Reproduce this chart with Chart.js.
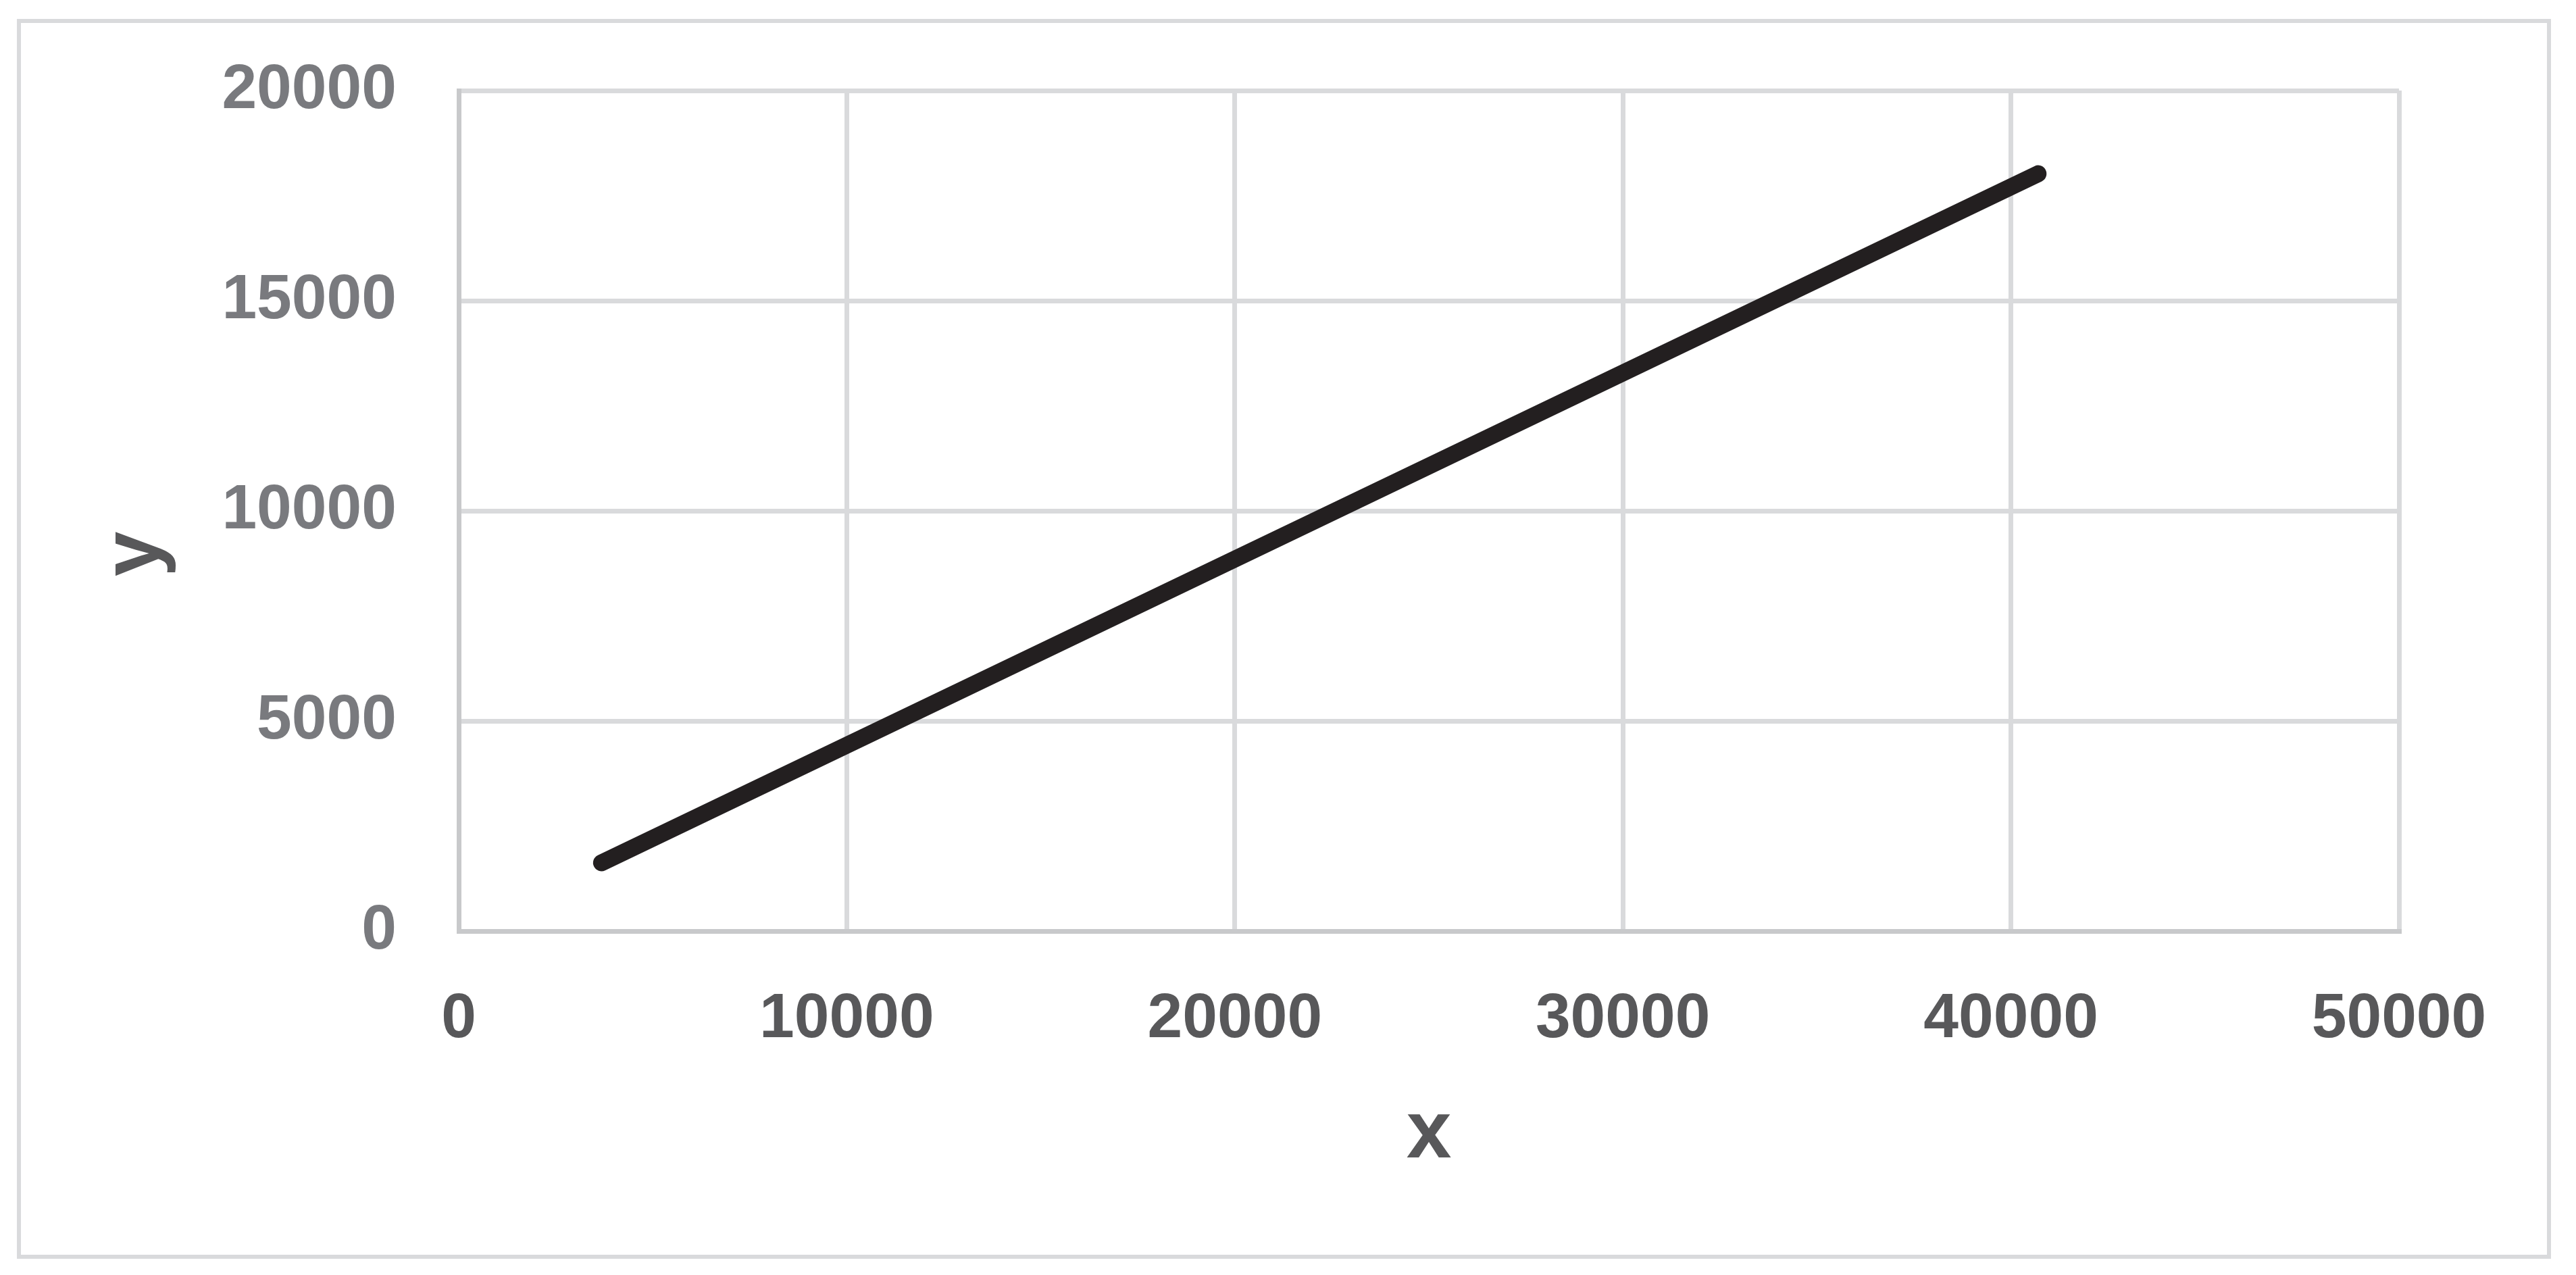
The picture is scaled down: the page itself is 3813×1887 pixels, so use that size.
<!DOCTYPE html>
<html>
<head>
<meta charset="utf-8">
<script src="https://cdn.jsdelivr.net/npm/chart.js@4/dist/chart.umd.min.js"></script>
<style>
  html, body { margin: 0; padding: 0; background: #ffffff; }
  #c { display: block; }
</style>
</head>
<body>
<canvas id="c" width="3813" height="1887"></canvas>
<script>
// ---- data ----
const xValues = [3680, 40700];
const yValues = [1625, 18020];
const xTickLabels = ['0', '10000', '20000', '30000', '40000', '50000'];
const yTickLabels = ['0', '5000', '10000', '15000', '20000'];
const xTitle = 'x';
const yTitle = 'y';

const points = xValues.map((x, i) => ({ x: x, y: yValues[i] }));

const frameAndTitles = {
  id: 'frameAndTitles',
  beforeDraw(chart) {
    const ctx = chart.ctx;
    ctx.save();
    ctx.fillStyle = '#ffffff';
    ctx.fillRect(0, 0, chart.width, chart.height);
    ctx.strokeStyle = '#d9dadc';
    ctx.lineWidth = 6;
    ctx.strokeRect(28, 31, 3773 - 28, 1860 - 31);
    ctx.restore();
  },
  afterDraw(chart) {
    const ctx = chart.ctx;
    const area = chart.chartArea;
    ctx.save();
    ctx.fillStyle = '#58585a';
    ctx.font = 'bold 120px "Liberation Sans", Arial, sans-serif';
    ctx.textAlign = 'center';
    ctx.textBaseline = 'alphabetic';
    ctx.fillText(xTitle, (area.left + area.right) / 2, 1713);
    ctx.translate(235, 820);
    ctx.rotate(-Math.PI / 2);
    ctx.fillText(yTitle, 0, 0);
    ctx.restore();
  }
};

new Chart(document.getElementById('c'), {
  type: 'scatter',
  data: {
    datasets: [{
      data: points,
      showLine: true,
      borderColor: '#231f20',
      backgroundColor: '#231f20',
      borderWidth: 25,
      borderCapStyle: 'round',
      borderJoinStyle: 'round',
      pointRadius: 0,
      pointHoverRadius: 0,
      tension: 0
    }]
  },
  plugins: [frameAndTitles],
  options: {
    responsive: false,
    animation: false,
    devicePixelRatio: 1,
    layout: { padding: { left: 0, top: 134, right: 262, bottom: 0 } },
    plugins: { legend: { display: false }, tooltip: { enabled: false } },
    scales: {
      x: {
        type: 'linear',
        min: 0, max: 50000,
        afterFit(scale) { scale.height = 509; scale.paddingLeft = 0; scale.paddingRight = 0; },
        grid: { color: '#d9dadc', lineWidth: 7, drawTicks: false },
        border: { color: '#c8c9cb', width: 7 },
        ticks: {
          stepSize: 10000,
          padding: 76,
          color: '#58585a',
          font: { family: '"Liberation Sans", Arial, sans-serif', size: 93, weight: 'bold' },
          maxRotation: 0,
          callback: (v, i) => xTickLabels[i]
        }
      },
      y: {
        type: 'linear',
        min: 0, max: 20000,
        afterFit(scale) { scale.width = 679; scale.paddingTop = 0; scale.paddingBottom = 0; },
        grid: { color: '#d9dadc', lineWidth: 7, drawTicks: false },
        border: { color: '#c8c9cb', width: 7 },
        ticks: {
          stepSize: 5000,
          padding: 92,
          color: '#797a7e',
          font: { family: '"Liberation Sans", Arial, sans-serif', size: 93, weight: 'bold' },
          callback: (v, i) => yTickLabels[i]
        }
      }
    }
  }
});
</script>
</body>
</html>
